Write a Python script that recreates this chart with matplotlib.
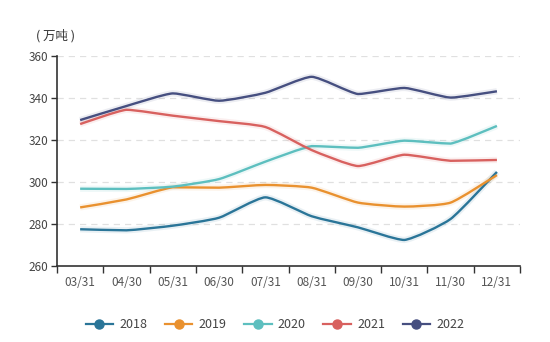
import matplotlib
matplotlib.use("Agg")
import matplotlib.pyplot as plt
import numpy as np
from matplotlib.path import Path
from matplotlib.patches import PathPatch
from matplotlib.lines import Line2D

plt.rcParams['font.family'] = ['Noto Sans CJK SC', 'DejaVu Sans']

categories = ["03/31", "04/30", "05/31", "06/30", "07/31", "08/31", "09/30", "10/31", "11/30", "12/31"]
years = ["2018", "2019", "2020", "2021", "2022"]
v2018 = [277.5, 277.0, 279.2, 283.0, 292.7, 283.7, 278.4, 272.4, 282.4, 304.8]
v2019 = [287.9, 291.7, 297.5, 297.3, 298.6, 297.3, 290.2, 288.3, 290.2, 303.3]
v2020 = [296.8, 296.7, 297.8, 301.4, 309.7, 317.1, 316.3, 319.7, 318.3, 326.7]
v2021 = [327.6, 334.4, 331.6, 329.0, 326.2, 315.2, 307.6, 313.0, 310.1, 310.5]
v2022 = [329.5, 336.2, 342.2, 338.7, 342.5, 350.1, 341.9, 344.8, 340.2, 343.2]
series = [v2018, v2019, v2020, v2021, v2022]
colors = ["#2a7598", "#e9912f", "#5dbfbf", "#d8615f", "#464f80"]
yticks = [260, 280, 300, 320, 340, 360]


def smooth_path(x, y, s=0.18):
    x = np.asarray(x, float)
    y = np.asarray(y, float)
    n = len(x)
    verts = [(x[0], y[0])]
    codes = [Path.MOVETO]
    for i in range(n - 1):
        p0 = np.array([x[max(i - 1, 0)], y[max(i - 1, 0)]])
        p1 = np.array([x[i], y[i]])
        p2 = np.array([x[i + 1], y[i + 1]])
        p3 = np.array([x[min(i + 2, n - 1)], y[min(i + 2, n - 1)]])
        c1 = p1 + (p2 - p0) * s / 2
        c2 = p2 - (p3 - p1) * s / 2
        lo, hi = min(p1[1], p2[1]), max(p1[1], p2[1])
        c1[1] = np.clip(c1[1], lo, hi)
        c2[1] = np.clip(c2[1], lo, hi)
        verts += [tuple(c1), tuple(c2), tuple(p2)]
        codes += [Path.CURVE4] * 3
    return Path(verts, codes)


fig = plt.figure(figsize=(5.5, 3.42), dpi=100)
ax = fig.add_axes([0.1036, 0.2222, 0.842, 0.614])

xs = np.arange(len(categories))
for vals, col in zip(series, colors):
    p = smooth_path(xs, vals)
    ax.add_patch(PathPatch(p, facecolor='none', edgecolor=col, lw=4.5, alpha=0.10, zorder=2))
    ax.add_patch(PathPatch(p, facecolor='none', edgecolor=col, lw=1.7, zorder=3))

ax.set_xlim(-0.5, len(categories) - 0.5)
ax.set_ylim(260, 360)
ax.set_yticks(yticks)
ax.set_yticklabels([str(t) for t in yticks], fontsize=8.5, color='#444444')
ax.set_xticks(np.arange(-0.5, len(categories), 1.0))
ax.set_xticklabels([])
ax.set_xticks(xs, minor=True)
ax.set_xticklabels(categories, minor=True, fontsize=8.5, color='#555555')
ax.tick_params(axis='x', which='minor', length=0, pad=7)
ax.tick_params(axis='x', which='major', length=5, width=1, color='#333333', direction='out')
ax.tick_params(axis='y', length=4, width=1, color='#333333', pad=2)

for t in yticks[1:]:
    ax.axhline(t, color='#e0e0e0', lw=0.9, ls=(0, (5, 4)), zorder=1)

for side in ['top', 'right']:
    ax.spines[side].set_visible(False)
ax.spines['left'].set_color('#333333')
ax.spines['bottom'].set_color('#333333')
ax.spines['left'].set_linewidth(1.2)
ax.spines['bottom'].set_linewidth(1.2)

fig.text(0.065, 0.895, "( 万吨 )", fontsize=9, color='#333333', ha='left', va='center')

handles = [Line2D([0], [0], color=c, lw=1.6, marker='o', markersize=6.5,
                  markerfacecolor=c, markeredgecolor=c) for c in colors]
fig.legend(handles, years, loc='center', bbox_to_anchor=(0.5, 0.05), ncol=5,
           frameon=False, fontsize=9, handlelength=2.2, handletextpad=0.5,
           columnspacing=1.4, labelcolor='#444444')

fig.savefig("out.png", dpi=100)
